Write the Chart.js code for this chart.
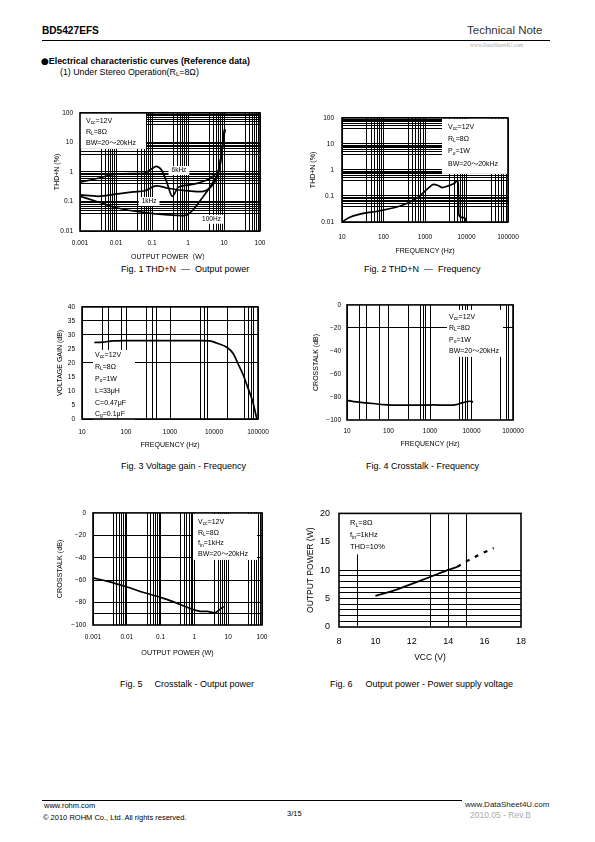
<!DOCTYPE html>
<html>
<head>
<meta charset="utf-8">
<script src="https://cdn.jsdelivr.net/npm/chart.js@4.4.1/dist/chart.umd.min.js"></script>
<style>
body { margin: 0; background: #fff; }
#page { position: relative; width: 595px; height: 842px; overflow: hidden; font-family: "Liberation Sans", Arial, "Noto Sans CJK JP", sans-serif; color: #000; }
.t { position: absolute; white-space: nowrap; line-height: 1; }
.hr { position: absolute; height: 1px; background: #000; }
canvas { position: absolute; }
sub { font-size: 70%; vertical-align: -1px; line-height: 0; }
</style>
</head>
<body>
<div id="page">
  <div class="t" style="left:42px;top:25px;font-size:11px;font-weight:bold;transform:scaleX(0.92);transform-origin:left;">BD5427EFS</div>
  <div class="t" style="left:467px;top:25px;font-size:11.5px;color:#333;">Technical Note</div>
  <div class="hr" style="left:42px;top:40px;width:508px;"></div>
  <div class="t" style="left:470px;top:43px;font-size:5.5px;color:#aaa;font-family:'Liberation Serif',serif;">www.DataSheet4U.com</div>
  <div class="t" style="left:41px;top:57px;font-size:8.8px;font-weight:bold;"><span style="font-family:'DejaVu Sans',sans-serif;font-size:9px;font-weight:normal;">●</span>Electrical characteristic curves (Reference data)</div>
  <div class="t" style="left:60px;top:67.5px;font-size:8.8px;">(1) Under Stereo Operation(R<sub>L</sub>=8Ω)</div>

  <div class="t" style="left:121px;top:265px;font-size:9px;">Fig. 1 THD+N &nbsp;―&nbsp; Output power</div>
  <div class="t" style="left:364px;top:265px;font-size:9px;">Fig. 2 THD+N &nbsp;―&nbsp; Frequency</div>
  <div class="t" style="left:121px;top:462px;font-size:9px;">Fig. 3 Voltage gain - Frequency</div>
  <div class="t" style="left:366px;top:462px;font-size:9px;">Fig. 4 Crosstalk - Frequency</div>
  <div class="t" style="left:120px;top:680px;font-size:9px;">Fig. 5<span style="margin-left:12px;">Crosstalk - Output power</span></div>
  <div class="t" style="left:330px;top:680px;font-size:9px;">Fig. 6<span style="margin-left:13px;">Output power - Power supply voltage</span></div>

  <div class="hr" style="left:42px;top:800px;width:420px;"></div>
  <div class="t" style="left:44px;top:802px;font-size:7.5px;">www.rohm.com</div>
  <div class="t" style="left:43px;top:814px;font-size:7.5px;">© 2010 ROHM Co., Ltd. All rights reserved.</div>
  <div class="t" style="left:287px;top:810px;font-size:7.5px;">3/15</div>
  <div class="t" style="left:470px;top:811px;font-size:8.5px;color:#aaa;">2010.05 - Rev.B</div>
  <div class="t" style="left:465px;top:801px;font-size:8px;color:#222;">www.DataSheet4U.com</div>
</div>

<script>
// Fig.1 THD+N vs output power
const fig1PowerTicks = [0.001, 0.01, 0.1, 1, 10, 100];
const fig1PowerLabels = ['0.001', '0.01', '0.1', '1', '10', '100'];
const fig1ThdTicks = [0.01, 0.1, 1, 10, 100];
const fig1ThdLabels = ['0.01', '0.1', '1', '10', '100'];
const fig1Power6k = [0.001, 0.003, 0.01, 0.03, 0.06, 0.1, 0.13, 0.18, 0.25, 0.37, 0.53, 1, 1.9, 3, 4.4, 5.5, 6.8, 7.8, 8.7, 9.6, 10.5];
const fig1Thd6k = [0.45, 0.6, 0.85, 0.88, 0.9, 1.3, 1.55, 1.2, 0.5, 0.15, 0.3, 0.36, 0.42, 0.5, 0.64, 0.8, 1.0, 1.8, 5, 12, 28];
const fig1Power1k = [0.001, 0.0032, 0.011, 0.03, 0.063, 0.13, 0.28, 0.5, 1, 2.3, 4.4, 6.1, 7.5, 8.7, 9.6, 10.5];
const fig1Thd1k = [0.167, 0.15, 0.18, 0.21, 0.23, 0.34, 0.28, 0.25, 0.23, 0.215, 0.32, 0.57, 1.3, 5, 12, 28];
const fig1Power100 = [0.001, 0.0032, 0.011, 0.063, 0.28, 0.8, 1.24, 1.9, 3.2, 4.9, 6.8, 8.5, 9.6, 10.5];
const fig1Thd100 = [0.15, 0.096, 0.06, 0.042, 0.035, 0.033, 0.045, 0.085, 0.2, 0.44, 0.94, 4.3, 12, 28];

// Fig.2 THD+N vs frequency
const freqTicks = [10, 100, 1000, 10000, 100000];
const freqLabels = ['10', '100', '1000', '10000', '100000'];
const fig2Freq = [10, 15, 27, 82, 250, 500, 800, 1200, 1600, 2000, 2600, 3500, 5000, 6000, 6300, 6500, 7500, 9200, 9800];
const fig2Thd = [0.01, 0.015, 0.02, 0.027, 0.041, 0.065, 0.11, 0.2, 0.28, 0.26, 0.21, 0.24, 0.3, 0.38, 0.3, 0.02, 0.015, 0.014, 0.01];

// Fig.3 voltage gain vs frequency
const fig3GainTicks = [0, 5, 10, 15, 20, 25, 30, 35, 40];
const fig3Freq = [19, 30, 50, 100, 1000, 5000, 8000, 11500, 19500, 27500, 35000, 46000, 59000, 77000, 92000, 95000];
const fig3Gain = [27.3, 27.4, 27.9, 28, 28, 28, 27.9, 27.1, 25.6, 23.3, 19.8, 15.8, 11.1, 5.9, 0.7, 0];

// Fig.4 crosstalk vs frequency
const xtalkTicks = [-100, -80, -60, -40, -20, 0];
const xtalkLabels = ['−100', '−80', '−60', '−40', '−20', '0'];
const fig4Freq = [10, 16.8, 29, 74, 186, 470, 1180, 3000, 4300, 6200, 9100, 10900];
const fig4Xtalk = [-82.9, -84.3, -85.1, -86.6, -87.1, -87.1, -86.9, -87.1, -86.6, -84.9, -83.7, -84.3];

// Fig.5 crosstalk vs output power
const fig5Power = [0.001, 0.0026, 0.0101, 0.0316, 0.123, 0.38, 0.85, 1.5, 2.36, 3.95, 5.2, 7.3];
const fig5Xtalk = [-58, -60.9, -66.1, -71, -76.2, -81.7, -85.8, -87.8, -87.8, -89.3, -87, -83.5];

// Fig.6 output power vs supply voltage
const fig6VccTicks = [8, 10, 12, 14, 16, 18];
const fig6PoTicks = [0, 5, 10, 15, 20];
const fig6VccSolid = [10, 11, 12, 13, 14, 14.5];
const fig6PoSolid = [5.5, 6.4, 7.6, 8.8, 10.05, 10.6];
const fig6VccDash = [14.5, 15, 15.75, 16.5];
const fig6PoDash = [10.6, 11.55, 12.8, 13.9];

const FONT = '"Liberation Sans", Arial, "Noto Sans CJK JP", sans-serif';
Chart.defaults.font.family = FONT;
Chart.defaults.color = '#000';

const key = v => Number(Number(v).toPrecision(6));

// log grid lines: the decade plus the 4..9 multiples, as on the original sheet
function logGrid(min, max, mults) {
  const out = [];
  for (let e = Math.round(Math.log10(min)); Math.pow(10, e) <= max * 1.0001; e++) {
    mults.forEach(m => {
      const v = key(m * Math.pow(10, e));
      if (v <= max * 1.0001 && v >= min * 0.9999) out.push(v);
    });
  }
  return out;
}
function range(a, b, step) {
  const out = [];
  for (let v = a; v <= b + 1e-9; v += step) out.push(key(v));
  return out;
}
const pts = (xs, ys) => xs.map((x, i) => ({ x: x, y: ys[i] }));

function drawRich(ctx, x, y, parts, size) {
  let cx = x;
  parts.forEach(p => {
    const sub = p[1];
    ctx.font = (sub ? size * 0.7 : size) + 'px ' + FONT;
    ctx.fillText(p[0], cx, sub ? y + size * 0.25 : y);
    cx += ctx.measureText(p[0]).width;
  });
}

function axis(o) {
  const gridSet = new Set(o.grid.map(key));
  const labelMap = new Map(o.labelAt.map((v, i) => [key(v), o.labels[i]]));
  const all = Array.from(new Set(o.grid.concat(o.labelAt).map(key))).sort((a, b) => a - b);
  return {
    type: o.type, min: o.min, max: o.max,
    afterBuildTicks: s => { s.ticks = all.map(v => ({ value: v })); },
    afterFit: s => { if (o.w) s.width = o.w; if (o.h) s.height = o.h; },
    ticks: {
      autoSkip: false, maxRotation: 0, padding: o.pad,
      font: { size: o.tickSize },
      callback: v => labelMap.has(key(v)) ? labelMap.get(key(v)) : ''
    },
    grid: {
      drawTicks: false, lineWidth: 1,
      color: c => gridSet.has(key(c.tick.value)) ? '#000' : 'rgba(0,0,0,0)'
    },
    border: { display: false },
    title: { display: true, text: o.title, padding: 0, font: { size: o.titleSize } }
  };
}

function buildChart(o) {
  const padR = 22, padT = 8;
  const plotW = o.R - o.L, plotH = o.B - o.T;
  const cv = document.createElement('canvas');
  cv.width = o.padL + plotW + padR;
  cv.height = padT + plotH + o.padB;
  cv.style.left = (o.L - o.padL) + 'px';
  cv.style.top = (o.T - padT) + 'px';
  document.getElementById('page').appendChild(cv);

  const notes = {
    id: 'notes',
    beforeDatasetsDraw(chart) {
      const ctx = chart.ctx, a = chart.chartArea;
      ctx.save();
      const b = o.box;
      ctx.fillStyle = '#fff';
      ctx.fillRect(a.left + b.x, a.top + b.y, b.w, b.h);
      ctx.fillStyle = '#000';
      ctx.textBaseline = 'middle';
      o.legend.forEach((line, i) => drawRich(ctx, a.left + b.tx, a.top + b.ty + i * b.dy, line, b.size));
      (o.curveNotes || []).forEach(n => {
        const px = chart.scales.x.getPixelForValue(n.x);
        const py = chart.scales.y.getPixelForValue(n.y);
        ctx.font = '6.5px ' + FONT;
        const w = ctx.measureText(n.text).width + 6;
        ctx.fillStyle = '#fff';
        ctx.fillRect(px - w / 2, py - 4.5, w, 9);
        ctx.fillStyle = '#000';
        ctx.textAlign = 'center';
        ctx.fillText(n.text, px, py);
        ctx.textAlign = 'left';
      });
      ctx.restore();
    },
    afterDatasetsDraw(chart) {
      const ctx = chart.ctx, a = chart.chartArea;
      ctx.save();
      ctx.strokeStyle = '#000';
      ctx.lineWidth = 1.6;
      ctx.strokeRect(a.left, a.top, a.right - a.left, a.bottom - a.top);
      ctx.restore();
    }
  };

  o.x.h = o.padB;
  o.y.w = o.padL;
  new Chart(cv, {
    type: 'line',
    data: {
      datasets: o.series.map(s => ({
        data: pts(s.x, s.y),
        borderColor: '#000',
        borderWidth: s.width || 1.7,
        borderDash: s.dash || [],
        pointRadius: 0,
        fill: false,
        cubicInterpolationMode: 'monotone'
      }))
    },
    options: {
      responsive: false,
      animation: false,
      devicePixelRatio: 1,
      layout: { padding: { top: padT, right: padR, left: 0, bottom: 0 } },
      plugins: { legend: { display: false }, tooltip: { enabled: false } },
      scales: { x: axis(o.x), y: axis(o.y) }
    },
    plugins: [notes]
  });
}

const logMults = [1, 4, 5, 6, 7, 8, 9];
const vccLine = [['V'], ['cc', 1], ['=12V']];
const rlLine = [['R'], ['L', 1], ['=8Ω']];
const bwLine = [['BW=20～20kHz']];

buildChart({
  L: 80, T: 110, R: 260, B: 231, padL: 27, padB: 30,
  x: { type: 'logarithmic', min: 0.001, max: 100, grid: logGrid(0.001, 100, logMults), labelAt: fig1PowerTicks, labels: fig1PowerLabels, pad: 8, tickSize: 6.5, title: 'OUTPUT POWER（W）', titleSize: 7 },
  y: { type: 'logarithmic', min: 0.01, max: 100, grid: logGrid(0.01, 100, logMults), labelAt: fig1ThdTicks, labels: fig1ThdLabels, pad: 7, tickSize: 6.5, title: 'THD+N (%)', titleSize: 7 },
  series: [{ x: fig1Power6k, y: fig1Thd6k }, { x: fig1Power1k, y: fig1Thd1k }, { x: fig1Power100, y: fig1Thd100 }],
  box: { x: 0, y: 0, w: 66, h: 36, tx: 6, ty: 8.5, dy: 11, size: 7 },
  legend: [vccLine, rlLine, bwLine],
  curveNotes: [{ text: '6kHz', x: 0.56, y: 1.12 }, { text: '1kHz', x: 0.083, y: 0.1 }, { text: '100Hz', x: 4.5, y: 0.025 }]
});

buildChart({
  L: 342, T: 114, R: 508, B: 222, padL: 33, padB: 33,
  x: { type: 'logarithmic', min: 10, max: 100000, grid: logGrid(10, 100000, logMults), labelAt: freqTicks, labels: freqLabels, pad: 11, tickSize: 6.5, title: 'FREQUENCY (Hz)', titleSize: 7 },
  y: { type: 'logarithmic', min: 0.01, max: 100, grid: logGrid(0.01, 100, logMults), labelAt: fig1ThdTicks, labels: fig1ThdLabels, pad: 8, tickSize: 6.5, title: 'THD+N (%)', titleSize: 7 },
  series: [{ x: fig2Freq, y: fig2Thd }],
  box: { x: 100, y: 1, w: 66, h: 55, tx: 106, ty: 9, dy: 12.3, size: 7 },
  legend: [vccLine, rlLine, [['P'], ['o', 1], ['=1W']], bwLine]
});

buildChart({
  L: 82, T: 304, R: 258, B: 419, padL: 26, padB: 30,
  x: { type: 'logarithmic', min: 10, max: 100000, grid: [10, 30, 40, 80, 100, 300, 400, 500, 1000, 5000, 6000, 7000, 20000, 50000, 60000, 70000, 80000, 100000], labelAt: freqTicks, labels: freqLabels, pad: 9, tickSize: 6.5, title: 'FREQUENCY (Hz)', titleSize: 7 },
  y: { type: 'linear', min: 0, max: 40, grid: [0, 20, 30, 35, 40], labelAt: fig3GainTicks, labels: fig3GainTicks.map(String), pad: 7, tickSize: 6.5, title: 'VOLTAGE GAIN (dB)', titleSize: 7 },
  series: [{ x: fig3Freq, y: fig3Gain }],
  box: { x: 11, y: 43, w: 42, h: 70, tx: 13, ty: 48.5, dy: 11.8, size: 7 },
  legend: [vccLine, rlLine, [['P'], ['o', 1], ['=1W']], [['L=33μH']], [['C=0.47μF']], [['C'], ['g', 1], ['=0.1μF']]]
});

buildChart({
  L: 347, T: 303, R: 513, B: 420, padL: 35, padB: 28,
  x: { type: 'logarithmic', min: 10, max: 100000, grid: [10, 20, 30, 60, 100, 300, 600, 700, 800, 1000, 5000, 6000, 7000, 8000, 10000, 50000, 70000, 80000, 100000], labelAt: freqTicks, labels: freqLabels, pad: 7, tickSize: 6.5, title: 'FREQUENCY (Hz)', titleSize: 7 },
  y: { type: 'linear', min: -100, max: 0, grid: [-20], labelAt: xtalkTicks, labels: xtalkLabels, pad: 6, tickSize: 6.5, title: 'CROSSTALK (dB)', titleSize: 7 },
  series: [{ x: fig4Freq, y: fig4Xtalk }],
  box: { x: 100, y: 5, w: 56, h: 47, tx: 102, ty: 12, dy: 11.4, size: 7 },
  legend: [vccLine, rlLine, [['P'], ['o', 1], ['=1W']], bwLine]
});

buildChart({
  L: 93, T: 510, R: 262, B: 625, padL: 37, padB: 32,
  x: { type: 'logarithmic', min: 0.001, max: 100, grid: logGrid(0.001, 100, logMults), labelAt: fig1PowerTicks, labels: fig1PowerLabels, pad: 8, tickSize: 6.5, title: 'OUTPUT POWER (W)', titleSize: 7.2 },
  y: { type: 'linear', min: -100, max: 0, grid: [-20, -40, -60, -80, -90], labelAt: xtalkTicks, labels: xtalkLabels, pad: 7, tickSize: 6.5, title: 'CROSSTALK (dB)', titleSize: 7.2 },
  series: [{ x: fig5Power, y: fig5Xtalk }],
  box: { x: 100, y: 1, w: 64, h: 46, tx: 105, ty: 9, dy: 10.8, size: 7 },
  legend: [vccLine, rlLine, [['f'], ['in', 1], ['=1kHz']], bwLine]
});

buildChart({
  L: 339, T: 507, R: 521, B: 627, padL: 33, padB: 36,
  x: { type: 'linear', min: 8, max: 18, grid: [9, 13, 14, 15], labelAt: fig6VccTicks, labels: fig6VccTicks.map(String), pad: 9.5, tickSize: 9, title: 'VCC (V)', titleSize: 8.5 },
  y: { type: 'linear', min: 0, max: 20, grid: range(1, 10, 1), labelAt: fig6PoTicks, labels: fig6PoTicks.map(String), pad: 9, tickSize: 9, title: 'OUTPUT POWER (W)', titleSize: 8.5 },
  series: [{ x: fig6VccSolid, y: fig6PoSolid, width: 1.8 }, { x: fig6VccDash, y: fig6PoDash, width: 2.2, dash: [4, 6] }],
  box: { x: 0, y: 0, w: 57, h: 41, tx: 11, ty: 10, dy: 12, size: 7.5 },
  legend: [rlLine, [['f'], ['in', 1], ['=1kHz']], [['THD=10%']]]
});
</script>
</body>
</html>
